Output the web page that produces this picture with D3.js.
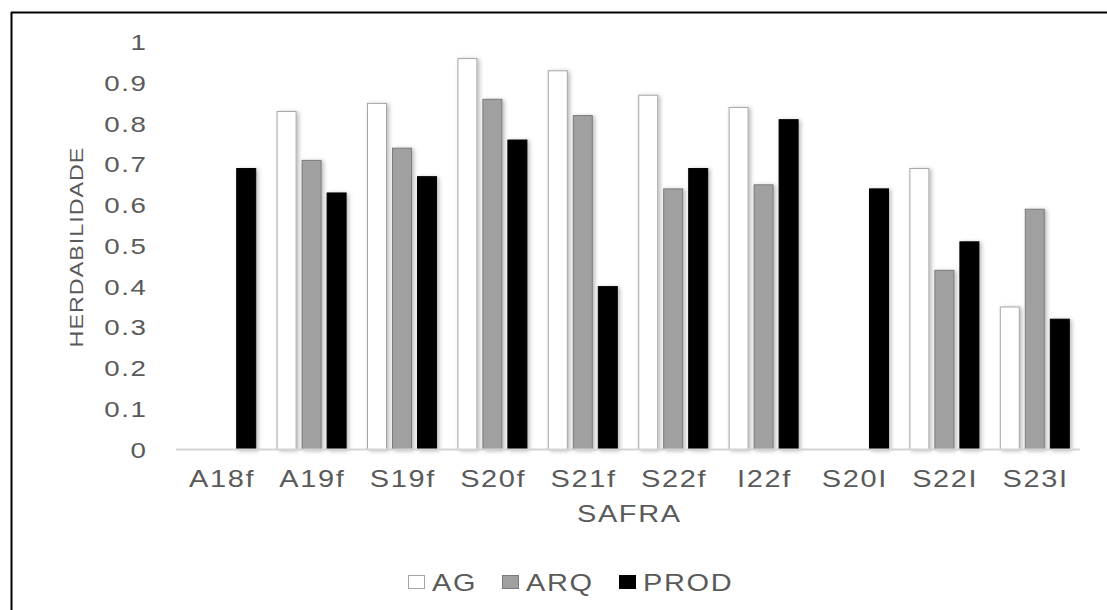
<!DOCTYPE html>
<html>
<head>
<meta charset="utf-8">
<script src="https://cdn.jsdelivr.net/npm/d3@7"></script>
<style>
  html, body { margin: 0; padding: 0; background: #fff; }
  svg { display: block; }
  text { font-family: "Liberation Sans", Arial, sans-serif; fill: #5a5a5a; }
</style>
</head>
<body>
<svg id="chart" width="1107" height="610"></svg>
<script>
// Heritability per season (safra) and trait
const categories = ["A18f", "A19f", "S19f", "S20f", "S21f", "S22f", "I22f", "S20l", "S22l", "S23l"];
const categoryLabels = ["A18f", "A19f", "S19f", "S20f", "S21f", "S22f", "I22f", "S20I", "S22I", "S23I"];
const seriesNames = ["AG", "ARQ", "PROD"];
const agValues   = [null, 0.83, 0.85, 0.96, 0.93, 0.87, 0.84, null, 0.69, 0.35];
const arqValues  = [null, 0.71, 0.74, 0.86, 0.82, 0.64, 0.65, null, 0.44, 0.59];
const prodValues = [0.69, 0.63, 0.67, 0.76, 0.40, 0.69, 0.81, 0.64, 0.51, 0.32];
const yTicks = [0, 0.1, 0.2, 0.3, 0.4, 0.5, 0.6, 0.7, 0.8, 0.9, 1];
const yTickLabels = ["0", "0.1", "0.2", "0.3", "0.4", "0.5", "0.6", "0.7", "0.8", "0.9", "1"];

const seriesValues = { AG: agValues, ARQ: arqValues, PROD: prodValues };
const fills   = { AG: "#ffffff", ARQ: "#a0a0a0", PROD: "#000000" };
const strokes = { AG: "#a6a6a6", ARQ: "#7a7a7a", PROD: "#000000" };

const svg = d3.select("#chart");
const stretch = 1.26;   // widened glyphs
const spacing = 1.3;    // letter spacing in px

// soft shadow under bars
const defs = svg.append("defs");
const f = defs.append("filter").attr("id", "shadow")
  .attr("x", "-30%").attr("y", "-10%").attr("width", "170%").attr("height", "130%");
f.append("feDropShadow").attr("dx", 2).attr("dy", 1).attr("stdDeviation", 2.2)
  .attr("flood-color", "#000").attr("flood-opacity", 0.28);

// frame lines
svg.append("line").attr("x1", 11).attr("x2", 1107).attr("y1", 12.5).attr("y2", 12.5)
  .attr("stroke", "#000").attr("stroke-width", 2);
svg.append("line").attr("x1", 11.5).attr("x2", 11.5).attr("y1", 12).attr("y2", 610)
  .attr("stroke", "#000").attr("stroke-width", 2);

const x0 = d3.scaleBand().domain(categories).range([176, 1080]);
const x1 = d3.scaleBand().domain(seriesNames)
  .range([(x0.bandwidth() - 70) / 2, (x0.bandwidth() + 70) / 2])
  .paddingInner(0.2).paddingOuter(0);
const y = d3.scaleLinear().domain([0, 1]).range([449.5, 42.3]);

// bars
const rows = [];
categories.forEach((c, i) => {
  seriesNames.forEach(s => {
    const v = seriesValues[s][i];
    if (v !== null) rows.push({ c, s, v });
  });
});
svg.append("g").selectAll("rect").data(rows).join("rect")
  .attr("x", d => x0(d.c) + x1(d.s) + 0.5)
  .attr("y", d => y(d.v))
  .attr("width", x1.bandwidth() - 1)
  .attr("height", d => y(0) - y(d.v))
  .attr("fill", d => fills[d.s])
  .attr("stroke", d => strokes[d.s])
  .attr("stroke-width", 1)
  .attr("filter", "url(#shadow)");

// baseline
svg.append("line").attr("x1", 176).attr("x2", 1080).attr("y1", y(0)).attr("y2", y(0))
  .attr("stroke", "#d4d4d4").attr("stroke-width", 2);

// y tick labels (trailing letter spacing compensated)
svg.append("g").selectAll("text").data(yTicks).join("text")
  .attr("transform", d => `translate(${146 + spacing * stretch},${y(d) + 8}) scale(${stretch},1)`)
  .attr("text-anchor", "end")
  .attr("font-size", 22)
  .attr("letter-spacing", spacing)
  .text((d, i) => yTickLabels[i]);

// category labels
svg.append("g").selectAll("text").data(categories).join("text")
  .attr("transform", d => `translate(${x0(d) + x0.bandwidth() / 2 + spacing * stretch / 2},487) scale(${stretch},1)`)
  .attr("text-anchor", "middle")
  .attr("font-size", 23)
  .attr("letter-spacing", spacing)
  .text((d, i) => categoryLabels[i]);

// axis titles
svg.append("text")
  .attr("transform", `translate(${628.5 + spacing * stretch / 2},522) scale(${stretch},1)`)
  .attr("text-anchor", "middle").attr("font-size", 23)
  .attr("letter-spacing", spacing)
  .text("SAFRA");
svg.append("text")
  .attr("transform", `translate(82.5,${247.5 - 0.5}) rotate(-90) scale(${stretch},1)`)
  .attr("text-anchor", "middle").attr("font-size", 18.5)
  .attr("letter-spacing", 0.8)
  .text("HERDABILIDADE");

// legend
const legendX = { AG: 408, ARQ: 502, PROD: 619 };
const lg = svg.append("g");
seriesNames.forEach(s => {
  lg.append("rect")
    .attr("x", legendX[s] + 0.5).attr("y", 575.5)
    .attr("width", 16).attr("height", 13)
    .attr("fill", fills[s]).attr("stroke", strokes[s]).attr("stroke-width", 1);
  lg.append("text")
    .attr("transform", `translate(${legendX[s] + 24},590.5) scale(${stretch},1)`)
    .attr("font-size", 23)
    .attr("letter-spacing", spacing)
    .text(s);
});
</script>
</body>
</html>
